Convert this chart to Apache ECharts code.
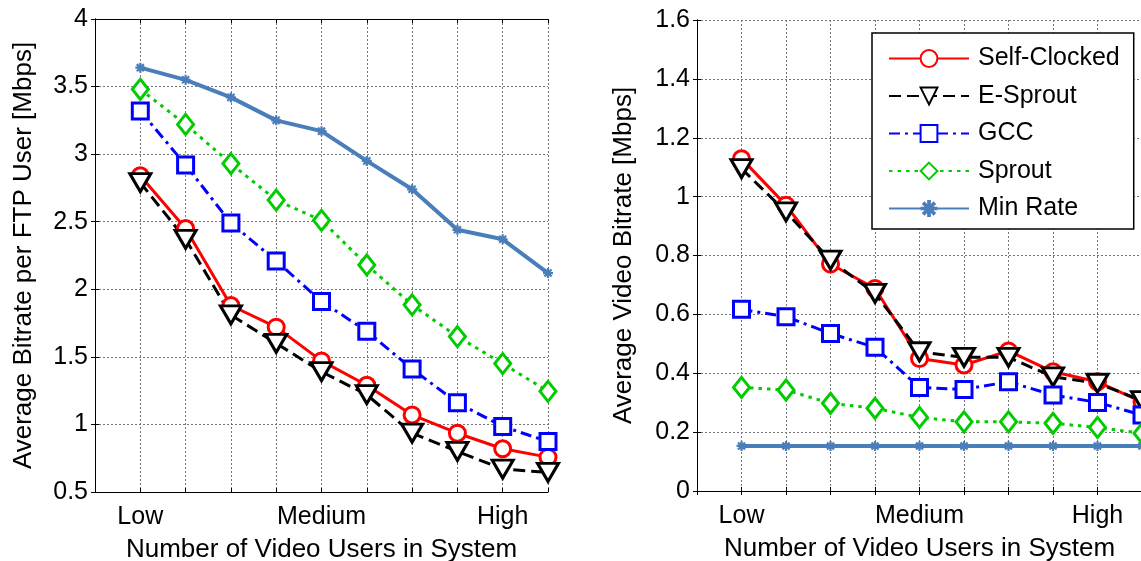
<!DOCTYPE html>
<html>
<head>
<meta charset="utf-8">
<script src="https://cdn.jsdelivr.net/npm/echarts@6/dist/echarts.min.js"></script>
<style>
  html, body { margin: 0; padding: 0; background: #fff; overflow: hidden; }
  #chart { width: 1150px; height: 561px; }
</style>
</head>
<body>
<div id="chart"></div>
<script>
// x positions of the 10 load levels, and the three named ticks
const xPos = [1, 2, 3, 4, 5, 6, 7, 8, 9, 10];
const levelTicks = [1, 5, 9];
const levelNames = ['Low', 'Medium', 'High'];

const seriesNames = ['Self-Clocked', 'E-Sprout', 'GCC', 'Sprout', 'Min Rate'];

// left panel: FTP user bitrate [Mbps]
const ftpSelfClocked = [2.84, 2.45, 1.88, 1.72, 1.47, 1.29, 1.07, 0.935, 0.82, 0.758];
const ftpESprout = [2.79, 2.37, 1.81, 1.60, 1.39, 1.22, 0.935, 0.80, 0.67, 0.645];
const ftpGCC = [3.32, 2.92, 2.49, 2.21, 1.91, 1.69, 1.41, 1.16, 0.985, 0.873];
const ftpSprout = [3.48, 3.22, 2.93, 2.66, 2.51, 2.18, 1.885, 1.65, 1.45, 1.245];
const ftpMinRate = [3.64, 3.55, 3.42, 3.25, 3.17, 2.95, 2.74, 2.44, 2.37, 2.12];

// right panel: video bitrate [Mbps]
const vidSelfClocked = [1.129, 0.971, 0.771, 0.688, 0.450, 0.428, 0.476, 0.405, 0.371, 0.303];
const vidESprout = [1.095, 0.948, 0.784, 0.671, 0.473, 0.454, 0.454, 0.388, 0.366, 0.307];
const vidGCC = [0.617, 0.592, 0.535, 0.488, 0.352, 0.345, 0.371, 0.326, 0.301, 0.258];
const vidSprout = [0.352, 0.343, 0.298, 0.281, 0.250, 0.235, 0.235, 0.230, 0.216, 0.196];
const vidMinRate = [0.153, 0.153, 0.153, 0.153, 0.153, 0.153, 0.153, 0.153, 0.153, 0.153];

const FONT = 'Liberation Sans, Arial, sans-serif';
const asterisk = 'path://M-1,-0.22L1,-0.22L1,0.22L-1,0.22Z' +
  'M-0.22,-1L0.22,-1L0.22,1L-0.22,1Z' +
  'M-0.86,-0.55L-0.55,-0.86L0.86,0.55L0.55,0.86Z' +
  'M0.55,-0.86L0.86,-0.55L-0.55,0.86L-0.86,0.55Z';

// marker / line style per method
const styles = [
  { color: '#ff0000', symbol: 'circle', size: 16, rotate: 0, dash: 'solid', width: 3 },
  { color: '#000000', symbol: 'triangle', size: [21, 18], rotate: 180, dash: [12, 6], width: 3 },
  { color: '#0000ff', symbol: 'rect', size: 16, rotate: 0, dash: [11, 5, 3, 5], width: 3 },
  { color: '#00cc00', symbol: 'diamond', size: [16, 20], rotate: 0, dash: [3.5, 5], width: 3 },
  { color: '#4a7ebb', symbol: asterisk, size: 10, rotate: 0, dash: 'solid', width: 4 }
];

function pairs(vals) {
  return xPos.map((x, i) => [x, vals[i]]);
}

function makeSeries(idx, vals, axisIdx) {
  const s = styles[idx];
  const hollow = idx < 4;
  return {
    type: 'line',
    name: seriesNames[idx],
    xAxisIndex: axisIdx,
    yAxisIndex: axisIdx,
    data: pairs(vals),
    symbol: s.symbol,
    symbolSize: s.size,
    symbolRotate: s.rotate,
    showAllSymbol: true,
    animation: false,
    lineStyle: { color: s.color, width: s.width, type: s.dash },
    itemStyle: hollow
      ? { color: '#ffffff', borderColor: s.color, borderWidth: 3 }
      : { color: s.color, borderWidth: 0 }
  };
}

function levelLabel(v) {
  const k = levelTicks.indexOf(v);
  return k >= 0 ? levelNames[k] : '';
}

function xAxes(gridIdx) {
  const base = {
    type: 'value', gridIndex: gridIdx, min: 0, max: 10, interval: 1,
    axisLine: { lineStyle: { color: '#000', width: 1 } },
    axisTick: { inside: true, length: 4, lineStyle: { color: '#000' } }
  };
  return [
    Object.assign({}, base, {
      position: 'bottom',
      name: 'Number of Video Users in System',
      nameLocation: 'middle',
      nameGap: 45,
      nameTextStyle: { fontFamily: FONT, fontSize: 26, color: '#000' },
      axisLabel: {
        formatter: levelLabel, margin: 13, showMinLabel: true, showMaxLabel: true,
        fontFamily: FONT, fontSize: 25, color: '#000'
      },
      splitLine: { show: true, lineStyle: { color: '#777', type: [2, 2], width: 1 } }
    }),
    Object.assign({}, base, {
      position: 'top',
      axisLabel: { show: false },
      splitLine: { show: false }
    })
  ];
}

function yAxes(gridIdx, min, max, step, title, gap) {
  const base = {
    type: 'value', gridIndex: gridIdx, min: min, max: max, interval: step,
    axisLine: { show: true, lineStyle: { color: '#000', width: 1 } },
    axisTick: { show: true, inside: true, length: 4, lineStyle: { color: '#000' } }
  };
  return [
    Object.assign({}, base, {
      position: 'left',
      name: title,
      nameLocation: 'middle',
      nameGap: gap,
      nameTextStyle: { fontFamily: FONT, fontSize: 26, color: '#000' },
      axisLabel: { margin: 7, fontFamily: FONT, fontSize: 25, color: '#000' },
      splitLine: { show: true, lineStyle: { color: '#777', type: [2, 2], width: 1 } }
    }),
    Object.assign({}, base, {
      position: 'right',
      axisLabel: { show: false },
      splitLine: { show: false }
    })
  ];
}

const chart = echarts.init(document.getElementById('chart'), null, { renderer: 'canvas' });

const option = {
  backgroundColor: '#fff',
  animation: false,
  grid: [
    { left: 95, top: 19, width: 453, height: 473, outerBoundsMode: 'none', containLabel: false },
    { left: 697, top: 20, width: 445, height: 471, outerBoundsMode: 'none', containLabel: false }
  ],
  xAxis: xAxes(0).concat(xAxes(1)),
  yAxis: yAxes(0, 0.5, 4, 0.5, 'Average Bitrate per FTP User [Mbps]', 58)
    .concat(yAxes(1, 0, 1.6, 0.2, 'Average Video Bitrate [Mbps]', 60)),
  legend: {
    data: seriesNames,
    orient: 'vertical',
    left: 872,
    top: 33,
    padding: [13, 14, 8, 16],
    itemWidth: 80,
    itemHeight: 21,
    itemGap: 12.5,
    backgroundColor: '#fff',
    borderColor: '#000',
    borderWidth: 1.5,
    borderRadius: 0,
    textStyle: { fontFamily: FONT, fontSize: 25, color: '#000', padding: [0, 0, 0, 4] }
  },
  series: [
    makeSeries(0, ftpSelfClocked, 0),
    makeSeries(1, ftpESprout, 0),
    makeSeries(2, ftpGCC, 0),
    makeSeries(3, ftpSprout, 0),
    makeSeries(4, ftpMinRate, 0),
    makeSeries(0, vidSelfClocked, 2),
    makeSeries(1, vidESprout, 2),
    makeSeries(2, vidGCC, 2),
    makeSeries(3, vidSprout, 2),
    makeSeries(4, vidMinRate, 2)
  ]
};

chart.setOption(option);
</script>
</body>
</html>
